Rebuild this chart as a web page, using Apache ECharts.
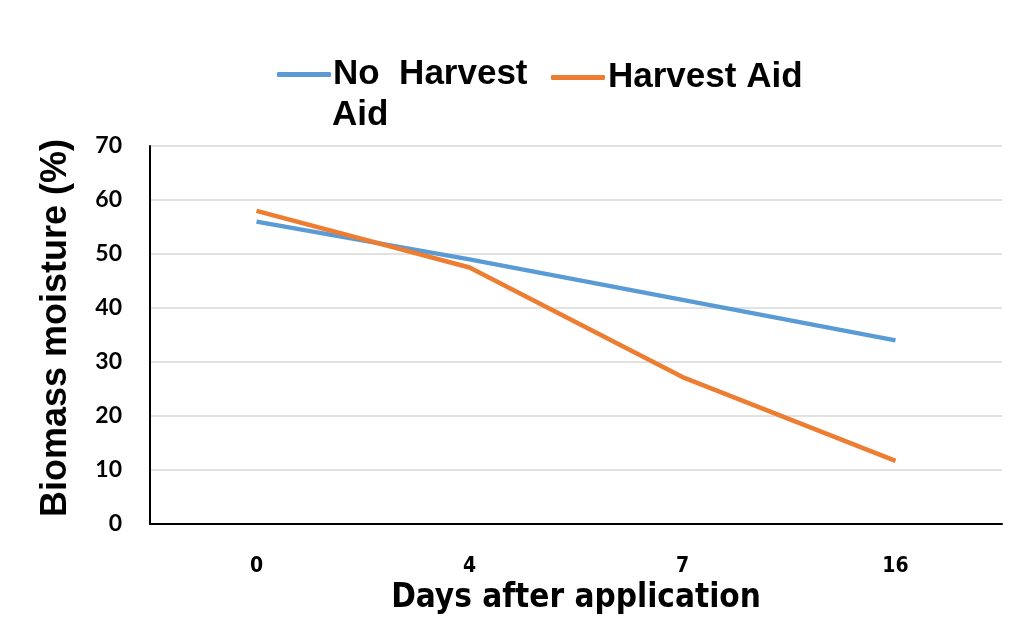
<!DOCTYPE html>
<html><head><meta charset="utf-8">
<script src="https://cdn.jsdelivr.net/npm/echarts@6/dist/echarts.min.js"></script>
<style>html,body{margin:0;padding:0;background:#fff}#c{width:1024px;height:632px}</style>
</head><body><div id="c"></div>
<script>
const categories = ['0', '4', '7', '16'];
const noHarvestAid = [56, 49, 41.5, 34];
const harvestAid = [58, 47.5, 27.2, 11.7];
const yTicks = {min: 0, max: 70, interval: 10};

const narrow = "'DejaVu Sans Condensed', 'Liberation Sans', sans-serif";
const legendText = {fontFamily: 'Liberation Sans', fontWeight: 'bold', fontSize: 35, color: '#000'};

const chart = echarts.init(document.getElementById('c'));
chart.setOption({
  animation: false,
  backgroundColor: '#fff',
  grid: {left: 150, right: 22, top: 146, bottom: 108, containLabel: false},
  legend: [
    {top: 52, left: 272, itemWidth: 54, itemHeight: 5, icon: 'roundRect', itemGap: 0,
     textStyle: Object.assign({padding: [0, 0, 0, -3]}, legendText),
     data: ['No Harvest Aid'], formatter: () => 'No  Harvest'},
    {top: 55, left: 546, itemWidth: 54, itemHeight: 5, icon: 'roundRect',
     textStyle: Object.assign({padding: [0, 0, 0, -2]}, legendText),
     data: ['Harvest Aid']}
  ],
  graphic: [
    {type: 'text', left: 332, top: 98, style: {text: 'Aid', font: 'bold 35px "Liberation Sans"', fill: '#000'}}
  ],
  xAxis: {
    type: 'category', data: categories, boundaryGap: true,
    axisLine: {lineStyle: {color: '#000', width: 2}},
    axisTick: {show: false},
    axisLabel: {margin: 32, fontFamily: narrow, fontWeight: 'bold', fontSize: 21, color: '#000'},
    name: 'Days after application', nameLocation: 'middle', nameGap: 55,
    nameTextStyle: {fontFamily: narrow, fontWeight: 'bold', fontSize: 33, color: '#000'}
  },
  yAxis: {
    type: 'value', min: yTicks.min, max: yTicks.max, interval: yTicks.interval,
    axisLine: {show: true, lineStyle: {color: '#000', width: 2}},
    axisTick: {show: false},
    splitLine: {lineStyle: {color: '#d9d9d9', width: 1.5}},
    axisLabel: {margin: 28, fontFamily: 'Lato', fontWeight: 'bold', fontSize: 23, color: '#000'},
    name: 'Biomass moisture (%)', nameLocation: 'middle', nameGap: 76,
    nameTextStyle: {fontFamily: 'Liberation Sans', fontWeight: 'bold', fontSize: 36, color: '#000', padding: [0, 0, 0, 14]}
  },
  series: [
    {name: 'No Harvest Aid', type: 'line', data: noHarvestAid, symbol: 'none',
     lineStyle: {color: '#5B9BD5', width: 4.5}, itemStyle: {color: '#5B9BD5'}},
    {name: 'Harvest Aid', type: 'line', data: harvestAid, symbol: 'none',
     lineStyle: {color: '#ED7D31', width: 4.5}, itemStyle: {color: '#ED7D31'}}
  ]
});
</script></body></html>
